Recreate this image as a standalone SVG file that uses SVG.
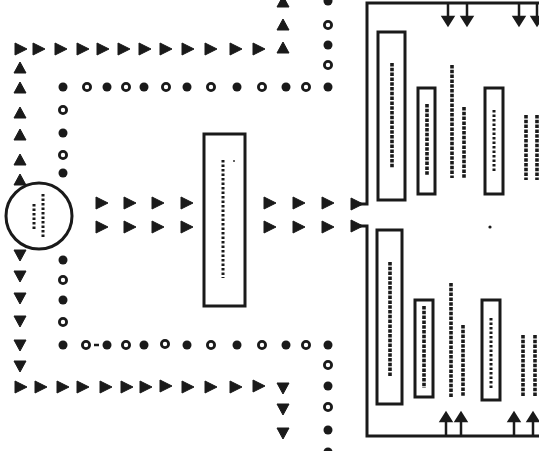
<svg xmlns="http://www.w3.org/2000/svg" xmlns:xlink="http://www.w3.org/1999/xlink" width="539" height="451" viewBox="0 0 539 451">
<style>
.box{fill:#fff;stroke:#1a1a1a;stroke-width:3}
.frame{fill:none;stroke:#1a1a1a;stroke-width:3}
.scr{fill:none;stroke:#1a1a1a;stroke-width:3.6;stroke-dasharray:3.5 1.3}
.scr2{fill:none;stroke:#1a1a1a;stroke-width:3;stroke-dasharray:2.5 2}
.ln{fill:none;stroke:#1a1a1a;stroke-width:2.5}
</style>
<defs>
<path id="tr" d="M-5,-6 L7,0 L-5,6 Z" fill="#1a1a1a" stroke="#1a1a1a" stroke-width="1" stroke-linejoin="round"/>
<path id="tu" d="M-6,5 L0,-6 L6,5 Z" fill="#1a1a1a" stroke="#1a1a1a" stroke-width="1" stroke-linejoin="round"/>
<path id="td" d="M-6,-5 L6,-5 L0,6 Z" fill="#1a1a1a" stroke="#1a1a1a" stroke-width="1" stroke-linejoin="round"/>
<circle id="d" r="4.5" fill="#1a1a1a"/>
<circle id="o" r="3.6" fill="#fff" stroke="#1a1a1a" stroke-width="2.8"/>
<path id="ad" d="M0,0 V14 M-5,14 L5,14 L0,22 Z" stroke="#1a1a1a" stroke-width="2.5" fill="#1a1a1a"/>
<path id="au" d="M0,0 V-14 M-5,-14 L5,-14 L0,-22 Z" stroke="#1a1a1a" stroke-width="2.5" fill="#1a1a1a"/>
</defs>
<rect width="539" height="451" fill="#fff"/>

<g id="connectors">
  <!-- top right-arrow row -->
  <use href="#tr" x="20" y="49"/><use href="#tr" x="38" y="49"/><use href="#tr" x="60" y="49"/><use href="#tr" x="82" y="49"/><use href="#tr" x="102" y="49"/><use href="#tr" x="123" y="49"/><use href="#tr" x="144" y="49"/><use href="#tr" x="165" y="49"/><use href="#tr" x="187" y="49"/><use href="#tr" x="210" y="49"/><use href="#tr" x="235" y="49"/><use href="#tr" x="258" y="49"/>
  <use href="#tu" x="283" y="48"/><use href="#tu" x="283" y="25"/><use href="#tu" x="283" y="2"/>
  <!-- left up triangles -->
  <use href="#tu" x="20" y="68"/><use href="#tu" x="20" y="88"/><use href="#tu" x="20" y="113"/><use href="#tu" x="20" y="135"/><use href="#tu" x="20" y="160"/><use href="#tu" x="20" y="180"/>
  <!-- left down triangles -->
  <use href="#td" x="20" y="255"/><use href="#td" x="20" y="276"/><use href="#td" x="20" y="298"/><use href="#td" x="20" y="321"/><use href="#td" x="20" y="345"/><use href="#td" x="20" y="366"/>
  <!-- bottom right-arrow row -->
  <use href="#tr" x="20" y="387"/><use href="#tr" x="40" y="387"/><use href="#tr" x="62" y="387"/><use href="#tr" x="82" y="387"/><use href="#tr" x="105" y="387"/><use href="#tr" x="126" y="387"/><use href="#tr" x="145" y="387"/><use href="#tr" x="165" y="386"/><use href="#tr" x="187" y="387"/><use href="#tr" x="210" y="387"/><use href="#tr" x="235" y="387"/><use href="#tr" x="258" y="386"/>
  <use href="#td" x="283" y="388"/><use href="#td" x="283" y="409"/><use href="#td" x="283" y="433"/>

  <!-- top dot row -->
  <use href="#d" x="63" y="87"/><use href="#o" x="87" y="87"/><use href="#d" x="107" y="87"/><use href="#o" x="126" y="87"/><use href="#d" x="144" y="87"/><use href="#o" x="166" y="87"/><use href="#d" x="187" y="87"/><use href="#o" x="211" y="87"/><use href="#d" x="237" y="87"/><use href="#o" x="262" y="87"/><use href="#d" x="286" y="87"/><use href="#o" x="306" y="87"/><use href="#d" x="328" y="87"/>
  <use href="#d" x="328" y="1"/><use href="#o" x="328" y="25"/><use href="#d" x="328" y="45"/><use href="#o" x="328" y="65"/>
  <!-- left dot column -->
  <use href="#o" x="63" y="110"/><use href="#d" x="63" y="133"/><use href="#o" x="63" y="155"/><use href="#d" x="63" y="173"/>
  <use href="#d" x="63" y="260"/><use href="#o" x="63" y="280"/><use href="#d" x="63" y="300"/><use href="#o" x="63" y="322"/>
  <!-- bottom dot row -->
  <use href="#d" x="63" y="345"/><use href="#o" x="86" y="345"/><path d="M94,345 H99" class="ln" stroke-width="2"/><use href="#d" x="107" y="345"/><use href="#o" x="126" y="345"/><use href="#d" x="144" y="345"/><use href="#o" x="165" y="344"/><use href="#d" x="187" y="345"/><use href="#o" x="211" y="345"/><use href="#d" x="237" y="345"/><use href="#o" x="262" y="345"/><use href="#d" x="286" y="345"/><use href="#o" x="306" y="345"/><use href="#d" x="328" y="345"/>
  <use href="#o" x="328" y="365"/><use href="#d" x="328" y="386"/><use href="#o" x="328" y="407"/><use href="#d" x="328" y="430"/><use href="#d" x="328" y="452"/>

  <!-- middle arrows -->
  <use href="#tr" x="101" y="203"/><use href="#tr" x="129" y="203"/><use href="#tr" x="157" y="203"/><use href="#tr" x="186" y="203"/>
  <use href="#tr" x="101" y="227"/><use href="#tr" x="129" y="227"/><use href="#tr" x="157" y="227"/><use href="#tr" x="186" y="227"/>
  <use href="#tr" x="269" y="203"/><use href="#tr" x="298" y="203"/><use href="#tr" x="327" y="203"/>
  <use href="#tr" x="269" y="227"/><use href="#tr" x="298" y="227"/><use href="#tr" x="327" y="227"/>
  <use href="#tr" x="356" y="204"/><use href="#tr" x="356" y="226"/>

  <!-- arrows into frame -->
  <use href="#ad" x="448" y="3"/><use href="#ad" x="467" y="3"/><use href="#ad" x="519" y="3"/><use href="#ad" x="537" y="3"/>
  <use href="#au" x="446" y="435"/><use href="#au" x="461" y="435"/><use href="#au" x="514" y="435"/><use href="#au" x="533" y="435"/>
</g>

<g id="source">
  <circle cx="39" cy="216" r="33" fill="#fff" stroke="#1a1a1a" stroke-width="3"/>
  <path d="M34,204 V230" class="scr2"/>
  <path d="M43,194 V239" class="scr2"/>
</g>

<g id="middle-box">
  <rect x="204" y="134" width="41" height="172" class="box"/>
  <path d="M223,160 V278" class="scr2" stroke-dasharray="3 4.5"/>
  <circle cx="234" cy="161" r="1" fill="#333"/>
</g>

<g id="frame">
  <path d="M355,204 H367 V3 H541" class="frame"/>
  <path d="M355,226 H367 V436 H541" class="frame"/>
  <circle cx="490" cy="227" r="1.6" fill="#1a1a1a"/>
</g>

<g id="upper-unit">
  <rect x="378" y="32" width="27" height="168" class="box"/>
  <path d="M392,63 V168" class="scr"/>
  <rect x="418" y="88" width="17" height="106" class="box"/>
  <path d="M427,104 V176" class="scr"/>
  <path d="M452,65 V178" class="scr"/>
  <path d="M464,107 V178" class="scr"/>
  <rect x="485" y="88" width="18" height="106" class="box"/>
  <path d="M494,110 V172" class="scr2"/>
  <path d="M526,115 V180" class="scr"/>
  <path d="M537,115 V180" class="scr"/>
</g>

<g id="lower-unit">
  <rect x="377" y="230" width="25" height="174" class="box"/>
  <path d="M390,262 V377" class="scr"/>
  <rect x="415" y="300" width="18" height="97" class="box"/>
  <path d="M424,306 V388" class="scr"/>
  <path d="M451,283 V397" class="scr"/>
  <path d="M463,325 V397" class="scr"/>
  <rect x="482" y="300" width="18" height="100" class="box"/>
  <path d="M491,318 V388" class="scr2"/>
  <path d="M523,335 V397" class="scr"/>
  <path d="M535,335 V397" class="scr"/>
</g>
</svg>
